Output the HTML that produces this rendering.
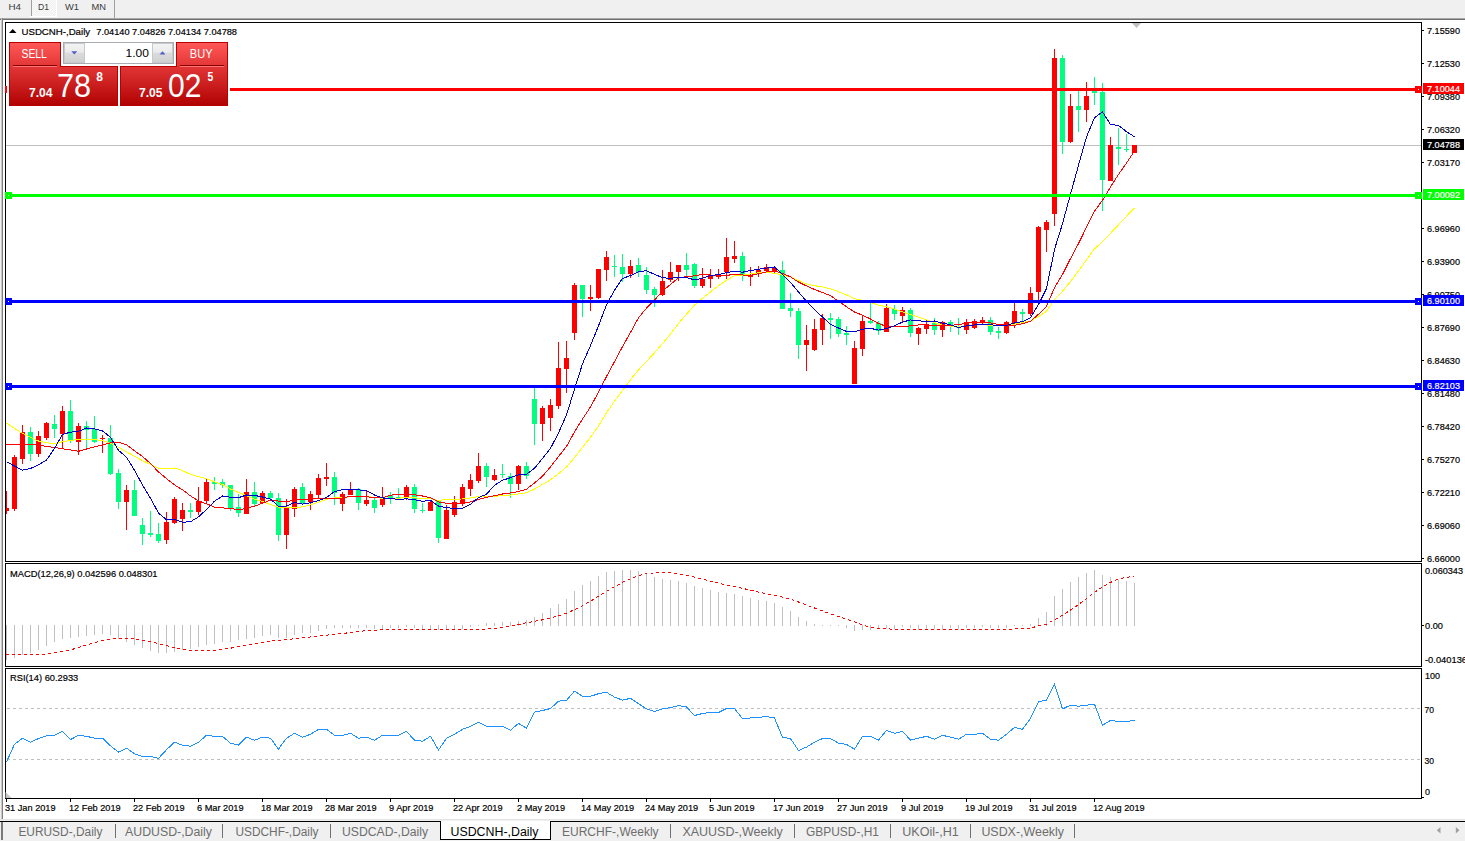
<!DOCTYPE html>
<html><head><meta charset="utf-8"><style>
html,body{margin:0;padding:0;width:1465px;height:841px;overflow:hidden;background:#f0f0f0;font-family:"Liberation Sans",sans-serif}
svg{position:absolute;left:0;top:0;display:block}
text{font-family:"Liberation Sans",sans-serif}
</style></head><body>
<svg width="1465" height="841" viewBox="0 0 1465 841" shape-rendering="crispEdges" font-family="Liberation Sans, sans-serif">
<rect x="0" y="0" width="1465" height="841" fill="#f0f0f0"/>
<rect x="31" y="0" width="1" height="16" fill="#a0a0a0"/>
<rect x="30" y="16" width="27" height="1" fill="#ffffff"/>
<rect x="56" y="0" width="1" height="16" fill="#ffffff"/>
<rect x="114" y="0" width="1" height="18" fill="#a0a0a0"/>
<defs><pattern id="dith" width="2" height="2" patternUnits="userSpaceOnUse"><rect width="2" height="2" fill="#f0f0f0"/><rect width="1" height="1" fill="#fafafa"/><rect x="1" y="1" width="1" height="1" fill="#fafafa"/></pattern></defs>
<rect x="32" y="0" width="24" height="16" fill="url(#dith)"/>
<text x="8.5" y="10" font-size="9.7" fill="#3a3a3a" textLength="12.5" lengthAdjust="spacingAndGlyphs">H4</text>
<text x="38" y="10" font-size="9.7" fill="#3a3a3a" textLength="11" lengthAdjust="spacingAndGlyphs">D1</text>
<text x="65" y="10" font-size="9.7" fill="#3a3a3a" textLength="14" lengthAdjust="spacingAndGlyphs">W1</text>
<text x="91.5" y="10" font-size="9.7" fill="#3a3a3a" textLength="14.5" lengthAdjust="spacingAndGlyphs">MN</text>
<rect x="0" y="18" width="1465" height="1" fill="#a8a8a8"/>
<rect x="0" y="19" width="1465" height="1" fill="#707070"/>
<rect x="1" y="18" width="1" height="802" fill="#c8c8c8"/>
<rect x="2" y="18" width="1" height="802" fill="#808080"/>
<rect x="3" y="20" width="1462" height="799" fill="#ffffff"/>
<g>
<rect x="5" y="145" width="1416" height="1" fill="#c0c0c0"/>
<rect x="6" y="491" width="1" height="23" fill="#FF0000"/>
<rect x="4" y="508" width="5" height="3" fill="#FF0000"/>
<rect x="14" y="455" width="1" height="56" fill="#FF0000"/>
<rect x="12" y="457" width="5" height="52" fill="#FF0000"/>
<rect x="22" y="425" width="1" height="39" fill="#FF0000"/>
<rect x="20" y="432" width="5" height="27" fill="#FF0000"/>
<rect x="30" y="427" width="1" height="34" fill="#00FF7F"/>
<rect x="28" y="432" width="5" height="22" fill="#00FF7F"/>
<rect x="38" y="431" width="1" height="26" fill="#FF0000"/>
<rect x="36" y="436" width="5" height="18" fill="#FF0000"/>
<rect x="46" y="422" width="1" height="18" fill="#FF0000"/>
<rect x="44" y="423" width="5" height="15" fill="#FF0000"/>
<rect x="54" y="415" width="1" height="23" fill="#00FF7F"/>
<rect x="52" y="424" width="5" height="5" fill="#00FF7F"/>
<rect x="62" y="406" width="1" height="43" fill="#FF0000"/>
<rect x="60" y="411" width="5" height="23" fill="#FF0000"/>
<rect x="70" y="400" width="1" height="43" fill="#00FF7F"/>
<rect x="68" y="411" width="5" height="30" fill="#00FF7F"/>
<rect x="78" y="423" width="1" height="32" fill="#FF0000"/>
<rect x="76" y="426" width="5" height="16" fill="#FF0000"/>
<rect x="86" y="421" width="1" height="29" fill="#00FF7F"/>
<rect x="84" y="426" width="5" height="4" fill="#00FF7F"/>
<rect x="94" y="416" width="1" height="27" fill="#00FF7F"/>
<rect x="92" y="429" width="5" height="13" fill="#00FF7F"/>
<rect x="102" y="435" width="1" height="18" fill="#FF0000"/>
<rect x="100" y="438" width="5" height="1" fill="#FF0000"/>
<rect x="110" y="425" width="1" height="50" fill="#00FF7F"/>
<rect x="108" y="438" width="5" height="36" fill="#00FF7F"/>
<rect x="118" y="469" width="1" height="40" fill="#00FF7F"/>
<rect x="116" y="473" width="5" height="29" fill="#00FF7F"/>
<rect x="126" y="485" width="1" height="45" fill="#FF0000"/>
<rect x="124" y="490" width="5" height="12" fill="#FF0000"/>
<rect x="134" y="480" width="1" height="36" fill="#00FF7F"/>
<rect x="132" y="490" width="5" height="26" fill="#00FF7F"/>
<rect x="142" y="518" width="1" height="27" fill="#00FF7F"/>
<rect x="140" y="525" width="5" height="9" fill="#00FF7F"/>
<rect x="150" y="511" width="1" height="26" fill="#00FF7F"/>
<rect x="148" y="533" width="5" height="2" fill="#00FF7F"/>
<rect x="158" y="523" width="1" height="20" fill="#00FF7F"/>
<rect x="156" y="534" width="5" height="7" fill="#00FF7F"/>
<rect x="166" y="512" width="1" height="32" fill="#FF0000"/>
<rect x="164" y="522" width="5" height="18" fill="#FF0000"/>
<rect x="174" y="497" width="1" height="27" fill="#FF0000"/>
<rect x="172" y="499" width="5" height="24" fill="#FF0000"/>
<rect x="182" y="503" width="1" height="28" fill="#FF0000"/>
<rect x="180" y="510" width="5" height="9" fill="#FF0000"/>
<rect x="190" y="503" width="1" height="15" fill="#00FF7F"/>
<rect x="188" y="510" width="5" height="2" fill="#00FF7F"/>
<rect x="198" y="487" width="1" height="28" fill="#FF0000"/>
<rect x="196" y="501" width="5" height="11" fill="#FF0000"/>
<rect x="206" y="478" width="1" height="26" fill="#FF0000"/>
<rect x="204" y="482" width="5" height="19" fill="#FF0000"/>
<rect x="214" y="477" width="1" height="13" fill="#00FF7F"/>
<rect x="212" y="482" width="5" height="2" fill="#00FF7F"/>
<rect x="222" y="479" width="1" height="9" fill="#00FF7F"/>
<rect x="220" y="482" width="5" height="3" fill="#00FF7F"/>
<rect x="230" y="485" width="1" height="26" fill="#00FF7F"/>
<rect x="228" y="485" width="5" height="23" fill="#00FF7F"/>
<rect x="238" y="494" width="1" height="23" fill="#00FF7F"/>
<rect x="236" y="507" width="5" height="6" fill="#00FF7F"/>
<rect x="246" y="479" width="1" height="35" fill="#FF0000"/>
<rect x="244" y="492" width="5" height="22" fill="#FF0000"/>
<rect x="254" y="482" width="1" height="25" fill="#00FF7F"/>
<rect x="252" y="492" width="5" height="12" fill="#00FF7F"/>
<rect x="262" y="491" width="1" height="13" fill="#FF0000"/>
<rect x="260" y="493" width="5" height="10" fill="#FF0000"/>
<rect x="270" y="491" width="1" height="8" fill="#00FF7F"/>
<rect x="268" y="493" width="5" height="5" fill="#00FF7F"/>
<rect x="278" y="493" width="1" height="48" fill="#00FF7F"/>
<rect x="276" y="498" width="5" height="37" fill="#00FF7F"/>
<rect x="286" y="499" width="1" height="50" fill="#FF0000"/>
<rect x="284" y="507" width="5" height="28" fill="#FF0000"/>
<rect x="294" y="487" width="1" height="30" fill="#FF0000"/>
<rect x="292" y="489" width="5" height="20" fill="#FF0000"/>
<rect x="302" y="483" width="1" height="21" fill="#00FF7F"/>
<rect x="300" y="487" width="5" height="16" fill="#00FF7F"/>
<rect x="310" y="491" width="1" height="19" fill="#FF0000"/>
<rect x="308" y="494" width="5" height="8" fill="#FF0000"/>
<rect x="318" y="474" width="1" height="24" fill="#FF0000"/>
<rect x="316" y="478" width="5" height="17" fill="#FF0000"/>
<rect x="326" y="463" width="1" height="23" fill="#FF0000"/>
<rect x="324" y="477" width="5" height="2" fill="#FF0000"/>
<rect x="334" y="472" width="1" height="33" fill="#00FF7F"/>
<rect x="332" y="477" width="5" height="16" fill="#00FF7F"/>
<rect x="342" y="492" width="1" height="19" fill="#FF0000"/>
<rect x="340" y="494" width="5" height="10" fill="#FF0000"/>
<rect x="350" y="482" width="1" height="13" fill="#FF0000"/>
<rect x="348" y="490" width="5" height="5" fill="#FF0000"/>
<rect x="358" y="488" width="1" height="22" fill="#00FF7F"/>
<rect x="356" y="489" width="5" height="14" fill="#00FF7F"/>
<rect x="366" y="491" width="1" height="15" fill="#FF0000"/>
<rect x="364" y="500" width="5" height="4" fill="#FF0000"/>
<rect x="374" y="498" width="1" height="15" fill="#00FF7F"/>
<rect x="372" y="500" width="5" height="8" fill="#00FF7F"/>
<rect x="382" y="487" width="1" height="20" fill="#FF0000"/>
<rect x="380" y="498" width="5" height="7" fill="#FF0000"/>
<rect x="390" y="492" width="1" height="12" fill="#00FF7F"/>
<rect x="388" y="495" width="5" height="3" fill="#00FF7F"/>
<rect x="398" y="488" width="1" height="11" fill="#00FF7F"/>
<rect x="396" y="497" width="5" height="1" fill="#00FF7F"/>
<rect x="406" y="485" width="1" height="15" fill="#FF0000"/>
<rect x="404" y="487" width="5" height="11" fill="#FF0000"/>
<rect x="414" y="484" width="1" height="29" fill="#00FF7F"/>
<rect x="412" y="487" width="5" height="22" fill="#00FF7F"/>
<rect x="422" y="503" width="1" height="10" fill="#00FF7F"/>
<rect x="420" y="510" width="5" height="1" fill="#00FF7F"/>
<rect x="430" y="501" width="1" height="10" fill="#FF0000"/>
<rect x="428" y="502" width="5" height="9" fill="#FF0000"/>
<rect x="438" y="500" width="1" height="43" fill="#00FF7F"/>
<rect x="436" y="501" width="5" height="37" fill="#00FF7F"/>
<rect x="446" y="505" width="1" height="34" fill="#FF0000"/>
<rect x="444" y="510" width="5" height="29" fill="#FF0000"/>
<rect x="454" y="496" width="1" height="21" fill="#FF0000"/>
<rect x="452" y="502" width="5" height="13" fill="#FF0000"/>
<rect x="462" y="484" width="1" height="22" fill="#FF0000"/>
<rect x="460" y="487" width="5" height="17" fill="#FF0000"/>
<rect x="470" y="474" width="1" height="22" fill="#FF0000"/>
<rect x="468" y="480" width="5" height="9" fill="#FF0000"/>
<rect x="478" y="453" width="1" height="30" fill="#FF0000"/>
<rect x="476" y="466" width="5" height="15" fill="#FF0000"/>
<rect x="486" y="463" width="1" height="24" fill="#00FF7F"/>
<rect x="484" y="466" width="5" height="11" fill="#00FF7F"/>
<rect x="494" y="469" width="1" height="12" fill="#FF0000"/>
<rect x="492" y="475" width="5" height="5" fill="#FF0000"/>
<rect x="502" y="464" width="1" height="14" fill="#00FF7F"/>
<rect x="500" y="474" width="5" height="1" fill="#00FF7F"/>
<rect x="510" y="473" width="1" height="25" fill="#00FF7F"/>
<rect x="508" y="476" width="5" height="8" fill="#00FF7F"/>
<rect x="518" y="465" width="1" height="25" fill="#FF0000"/>
<rect x="516" y="466" width="5" height="18" fill="#FF0000"/>
<rect x="526" y="462" width="1" height="17" fill="#00FF7F"/>
<rect x="524" y="466" width="5" height="10" fill="#00FF7F"/>
<rect x="534" y="388" width="1" height="57" fill="#00FF7F"/>
<rect x="532" y="399" width="5" height="25" fill="#00FF7F"/>
<rect x="542" y="406" width="1" height="35" fill="#FF0000"/>
<rect x="540" y="408" width="5" height="16" fill="#FF0000"/>
<rect x="550" y="399" width="1" height="32" fill="#FF0000"/>
<rect x="548" y="405" width="5" height="13" fill="#FF0000"/>
<rect x="558" y="342" width="1" height="67" fill="#FF0000"/>
<rect x="556" y="368" width="5" height="38" fill="#FF0000"/>
<rect x="566" y="341" width="1" height="52" fill="#FF0000"/>
<rect x="564" y="358" width="5" height="11" fill="#FF0000"/>
<rect x="574" y="283" width="1" height="57" fill="#FF0000"/>
<rect x="572" y="285" width="5" height="48" fill="#FF0000"/>
<rect x="582" y="285" width="1" height="32" fill="#00FF7F"/>
<rect x="580" y="285" width="5" height="14" fill="#00FF7F"/>
<rect x="590" y="285" width="1" height="26" fill="#FF0000"/>
<rect x="588" y="297" width="5" height="2" fill="#FF0000"/>
<rect x="598" y="269" width="1" height="30" fill="#FF0000"/>
<rect x="596" y="269" width="5" height="29" fill="#FF0000"/>
<rect x="606" y="251" width="1" height="30" fill="#FF0000"/>
<rect x="604" y="257" width="5" height="13" fill="#FF0000"/>
<rect x="614" y="255" width="1" height="22" fill="#00FF7F"/>
<rect x="612" y="266" width="5" height="1" fill="#00FF7F"/>
<rect x="622" y="254" width="1" height="28" fill="#00FF7F"/>
<rect x="620" y="267" width="5" height="7" fill="#00FF7F"/>
<rect x="630" y="260" width="1" height="18" fill="#FF0000"/>
<rect x="628" y="266" width="5" height="8" fill="#FF0000"/>
<rect x="638" y="258" width="1" height="19" fill="#00FF7F"/>
<rect x="636" y="265" width="5" height="7" fill="#00FF7F"/>
<rect x="646" y="267" width="1" height="27" fill="#00FF7F"/>
<rect x="644" y="275" width="5" height="15" fill="#00FF7F"/>
<rect x="654" y="287" width="1" height="20" fill="#00FF7F"/>
<rect x="652" y="289" width="5" height="6" fill="#00FF7F"/>
<rect x="662" y="270" width="1" height="26" fill="#FF0000"/>
<rect x="660" y="281" width="5" height="14" fill="#FF0000"/>
<rect x="670" y="262" width="1" height="20" fill="#FF0000"/>
<rect x="668" y="272" width="5" height="8" fill="#FF0000"/>
<rect x="678" y="265" width="1" height="16" fill="#FF0000"/>
<rect x="676" y="265" width="5" height="7" fill="#FF0000"/>
<rect x="686" y="253" width="1" height="25" fill="#00FF7F"/>
<rect x="684" y="265" width="5" height="5" fill="#00FF7F"/>
<rect x="694" y="263" width="1" height="25" fill="#00FF7F"/>
<rect x="692" y="264" width="5" height="22" fill="#00FF7F"/>
<rect x="702" y="268" width="1" height="20" fill="#FF0000"/>
<rect x="700" y="279" width="5" height="7" fill="#FF0000"/>
<rect x="710" y="269" width="1" height="19" fill="#FF0000"/>
<rect x="708" y="275" width="5" height="4" fill="#FF0000"/>
<rect x="718" y="269" width="1" height="10" fill="#FF0000"/>
<rect x="716" y="275" width="5" height="2" fill="#FF0000"/>
<rect x="726" y="238" width="1" height="41" fill="#FF0000"/>
<rect x="724" y="257" width="5" height="15" fill="#FF0000"/>
<rect x="734" y="241" width="1" height="22" fill="#FF0000"/>
<rect x="732" y="256" width="5" height="3" fill="#FF0000"/>
<rect x="742" y="252" width="1" height="29" fill="#00FF7F"/>
<rect x="740" y="256" width="5" height="20" fill="#00FF7F"/>
<rect x="750" y="267" width="1" height="19" fill="#FF0000"/>
<rect x="748" y="275" width="5" height="2" fill="#FF0000"/>
<rect x="758" y="266" width="1" height="11" fill="#FF0000"/>
<rect x="756" y="270" width="5" height="4" fill="#FF0000"/>
<rect x="766" y="264" width="1" height="8" fill="#FF0000"/>
<rect x="764" y="267" width="5" height="4" fill="#FF0000"/>
<rect x="774" y="266" width="1" height="8" fill="#FF0000"/>
<rect x="772" y="268" width="5" height="4" fill="#FF0000"/>
<rect x="782" y="261" width="1" height="48" fill="#00FF7F"/>
<rect x="780" y="270" width="5" height="39" fill="#00FF7F"/>
<rect x="790" y="293" width="1" height="24" fill="#00FF7F"/>
<rect x="788" y="308" width="5" height="3" fill="#00FF7F"/>
<rect x="798" y="308" width="1" height="51" fill="#00FF7F"/>
<rect x="796" y="311" width="5" height="34" fill="#00FF7F"/>
<rect x="806" y="325" width="1" height="46" fill="#FF0000"/>
<rect x="804" y="340" width="5" height="5" fill="#FF0000"/>
<rect x="814" y="319" width="1" height="32" fill="#FF0000"/>
<rect x="812" y="329" width="5" height="21" fill="#FF0000"/>
<rect x="822" y="314" width="1" height="31" fill="#FF0000"/>
<rect x="820" y="318" width="5" height="12" fill="#FF0000"/>
<rect x="830" y="313" width="1" height="26" fill="#00FF7F"/>
<rect x="828" y="318" width="5" height="2" fill="#00FF7F"/>
<rect x="838" y="317" width="1" height="20" fill="#00FF7F"/>
<rect x="836" y="319" width="5" height="15" fill="#00FF7F"/>
<rect x="846" y="326" width="1" height="19" fill="#00FF7F"/>
<rect x="844" y="333" width="5" height="2" fill="#00FF7F"/>
<rect x="854" y="341" width="1" height="43" fill="#FF0000"/>
<rect x="852" y="348" width="5" height="36" fill="#FF0000"/>
<rect x="862" y="316" width="1" height="40" fill="#FF0000"/>
<rect x="860" y="321" width="5" height="28" fill="#FF0000"/>
<rect x="870" y="303" width="1" height="21" fill="#00FF7F"/>
<rect x="868" y="321" width="5" height="2" fill="#00FF7F"/>
<rect x="878" y="321" width="1" height="14" fill="#00FF7F"/>
<rect x="876" y="323" width="5" height="8" fill="#00FF7F"/>
<rect x="886" y="304" width="1" height="28" fill="#FF0000"/>
<rect x="884" y="308" width="5" height="24" fill="#FF0000"/>
<rect x="894" y="305" width="1" height="15" fill="#00FF7F"/>
<rect x="892" y="309" width="5" height="5" fill="#00FF7F"/>
<rect x="902" y="307" width="1" height="15" fill="#FF0000"/>
<rect x="900" y="310" width="5" height="6" fill="#FF0000"/>
<rect x="910" y="308" width="1" height="29" fill="#00FF7F"/>
<rect x="908" y="310" width="5" height="23" fill="#00FF7F"/>
<rect x="918" y="327" width="1" height="18" fill="#FF0000"/>
<rect x="916" y="328" width="5" height="6" fill="#FF0000"/>
<rect x="926" y="320" width="1" height="14" fill="#FF0000"/>
<rect x="924" y="325" width="5" height="4" fill="#FF0000"/>
<rect x="934" y="318" width="1" height="17" fill="#00FF7F"/>
<rect x="932" y="323" width="5" height="7" fill="#00FF7F"/>
<rect x="942" y="321" width="1" height="16" fill="#FF0000"/>
<rect x="940" y="322" width="5" height="8" fill="#FF0000"/>
<rect x="950" y="320" width="1" height="12" fill="#00FF7F"/>
<rect x="948" y="322" width="5" height="4" fill="#00FF7F"/>
<rect x="958" y="318" width="1" height="17" fill="#00FF7F"/>
<rect x="956" y="327" width="5" height="1" fill="#00FF7F"/>
<rect x="966" y="319" width="1" height="15" fill="#FF0000"/>
<rect x="964" y="322" width="5" height="8" fill="#FF0000"/>
<rect x="974" y="319" width="1" height="10" fill="#FF0000"/>
<rect x="972" y="321" width="5" height="7" fill="#FF0000"/>
<rect x="982" y="317" width="1" height="7" fill="#FF0000"/>
<rect x="980" y="320" width="5" height="2" fill="#FF0000"/>
<rect x="990" y="317" width="1" height="18" fill="#00FF7F"/>
<rect x="988" y="320" width="5" height="12" fill="#00FF7F"/>
<rect x="998" y="327" width="1" height="12" fill="#00FF7F"/>
<rect x="996" y="331" width="5" height="2" fill="#00FF7F"/>
<rect x="1006" y="321" width="1" height="13" fill="#FF0000"/>
<rect x="1004" y="322" width="5" height="11" fill="#FF0000"/>
<rect x="1014" y="302" width="1" height="26" fill="#FF0000"/>
<rect x="1012" y="311" width="5" height="12" fill="#FF0000"/>
<rect x="1022" y="309" width="1" height="12" fill="#00FF7F"/>
<rect x="1020" y="312" width="5" height="2" fill="#00FF7F"/>
<rect x="1030" y="287" width="1" height="29" fill="#FF0000"/>
<rect x="1028" y="293" width="5" height="21" fill="#FF0000"/>
<rect x="1038" y="226" width="1" height="74" fill="#FF0000"/>
<rect x="1036" y="227" width="5" height="65" fill="#FF0000"/>
<rect x="1046" y="220" width="1" height="32" fill="#FF0000"/>
<rect x="1044" y="222" width="5" height="8" fill="#FF0000"/>
<rect x="1054" y="49" width="1" height="177" fill="#FF0000"/>
<rect x="1052" y="58" width="5" height="156" fill="#FF0000"/>
<rect x="1062" y="55" width="1" height="99" fill="#00FF7F"/>
<rect x="1060" y="58" width="5" height="84" fill="#00FF7F"/>
<rect x="1070" y="94" width="1" height="49" fill="#FF0000"/>
<rect x="1068" y="106" width="5" height="36" fill="#FF0000"/>
<rect x="1078" y="90" width="1" height="42" fill="#00FF7F"/>
<rect x="1076" y="106" width="5" height="4" fill="#00FF7F"/>
<rect x="1086" y="82" width="1" height="40" fill="#FF0000"/>
<rect x="1084" y="96" width="5" height="14" fill="#FF0000"/>
<rect x="1094" y="77" width="1" height="28" fill="#00FF7F"/>
<rect x="1092" y="91" width="5" height="2" fill="#00FF7F"/>
<rect x="1102" y="83" width="1" height="128" fill="#00FF7F"/>
<rect x="1100" y="92" width="5" height="88" fill="#00FF7F"/>
<rect x="1110" y="137" width="1" height="44" fill="#FF0000"/>
<rect x="1108" y="145" width="5" height="36" fill="#FF0000"/>
<rect x="1118" y="128" width="1" height="37" fill="#00FF7F"/>
<rect x="1116" y="147" width="5" height="2" fill="#00FF7F"/>
<rect x="1126" y="134" width="1" height="18" fill="#00FF7F"/>
<rect x="1124" y="149" width="5" height="1" fill="#00FF7F"/>
<rect x="1134" y="145" width="1" height="8" fill="#FF0000"/>
<rect x="1132" y="145" width="5" height="8" fill="#FF0000"/>
<polyline points="6.5,423.0 14.5,428.3 22.5,433.4 30.5,437.2 38.5,441.0 46.5,442.8 54.5,443.5 62.5,441.8 70.5,440.3 78.5,439.7 86.5,439.1 94.5,439.6 102.5,440.5 110.5,443.4 118.5,447.3 126.5,451.8 134.5,456.3 142.5,460.6 150.5,464.4 158.5,468.1 166.5,468.5 174.5,468.0 182.5,470.6 190.5,474.4 198.5,476.6 206.5,478.8 214.5,481.7 222.5,484.4 230.5,489.0 238.5,492.4 246.5,495.6 254.5,499.1 262.5,501.6 270.5,504.4 278.5,507.3 286.5,507.6 294.5,507.5 302.5,506.9 310.5,505.0 318.5,502.3 326.5,499.3 334.5,497.9 342.5,497.7 350.5,496.7 358.5,496.3 366.5,496.3 374.5,497.5 382.5,498.2 390.5,498.8 398.5,498.3 406.5,497.1 414.5,497.9 422.5,498.2 430.5,498.6 438.5,500.5 446.5,499.3 454.5,499.1 462.5,499.0 470.5,497.9 478.5,496.6 486.5,496.5 494.5,496.4 502.5,495.6 510.5,495.1 518.5,494.0 526.5,492.7 534.5,489.1 542.5,484.3 550.5,479.9 558.5,473.7 566.5,467.0 574.5,457.4 582.5,447.4 590.5,437.2 598.5,426.1 606.5,412.8 614.5,401.2 622.5,390.4 630.5,379.8 638.5,369.9 646.5,361.5 654.5,352.8 662.5,343.6 670.5,333.9 678.5,323.5 686.5,314.2 694.5,305.1 702.5,298.2 710.5,291.9 718.5,285.7 726.5,280.4 734.5,275.6 742.5,275.2 750.5,274.0 758.5,272.7 766.5,272.6 774.5,273.2 782.5,275.1 790.5,276.9 798.5,280.6 806.5,283.9 814.5,285.7 822.5,286.9 830.5,288.7 838.5,291.7 846.5,295.0 854.5,298.7 862.5,300.4 870.5,302.4 878.5,305.1 886.5,306.6 894.5,309.3 902.5,311.9 910.5,314.6 918.5,317.1 926.5,319.7 934.5,322.7 942.5,325.3 950.5,326.1 958.5,327.0 966.5,325.9 974.5,325.0 982.5,324.6 990.5,325.3 998.5,325.9 1006.5,325.3 1014.5,324.1 1022.5,322.5 1030.5,321.2 1038.5,316.6 1046.5,311.4 1054.5,299.5 1062.5,291.3 1070.5,281.6 1078.5,270.9 1086.5,259.9 1094.5,248.8 1102.5,241.7 1110.5,233.3 1118.5,224.8 1126.5,216.3 1134.5,207.9" fill="none" stroke="#FFFF00" stroke-width="1" shape-rendering="crispEdges"/>
<polyline points="6.5,445.0 14.5,444.7 22.5,444.5 30.5,444.2 38.5,445.3 46.5,446.4 54.5,447.5 62.5,448.8 70.5,450.0 78.5,451.3 86.5,449.0 94.5,446.9 102.5,444.9 110.5,442.8 118.5,442.4 126.5,444.7 134.5,450.8 142.5,456.5 150.5,463.6 158.5,471.9 166.5,478.6 174.5,484.9 182.5,489.8 190.5,495.9 198.5,500.9 206.5,503.8 214.5,507.1 222.5,507.9 230.5,508.4 238.5,510.0 246.5,508.3 254.5,506.2 262.5,503.2 270.5,500.2 278.5,501.1 286.5,501.7 294.5,500.2 302.5,499.6 310.5,499.1 318.5,498.8 326.5,498.3 334.5,498.9 342.5,497.9 350.5,496.2 358.5,497.0 366.5,496.7 374.5,497.8 382.5,497.8 390.5,495.1 398.5,494.5 406.5,494.4 414.5,494.8 422.5,496.0 430.5,497.7 438.5,502.0 446.5,503.2 454.5,503.8 462.5,503.6 470.5,501.9 478.5,499.5 486.5,497.3 494.5,495.7 502.5,494.0 510.5,493.0 518.5,491.5 526.5,489.2 534.5,483.0 542.5,476.3 550.5,466.8 558.5,456.6 566.5,446.4 574.5,431.9 582.5,419.0 590.5,406.9 598.5,392.1 606.5,376.5 614.5,361.7 622.5,346.7 630.5,332.4 638.5,317.8 646.5,308.1 654.5,300.1 662.5,291.2 670.5,284.4 678.5,277.8 686.5,276.7 694.5,275.8 702.5,274.5 710.5,274.9 718.5,276.2 726.5,275.5 734.5,274.2 742.5,275.0 750.5,275.2 758.5,273.8 766.5,271.8 774.5,270.9 782.5,273.5 790.5,276.8 798.5,282.1 806.5,285.9 814.5,289.5 822.5,292.5 830.5,295.7 838.5,301.2 846.5,306.8 854.5,312.0 862.5,315.2 870.5,319.0 878.5,323.6 886.5,326.4 894.5,326.8 902.5,326.7 910.5,325.9 918.5,325.0 926.5,324.7 934.5,325.6 942.5,325.8 950.5,325.2 958.5,324.8 966.5,322.9 974.5,322.9 982.5,322.7 990.5,322.8 998.5,324.6 1006.5,325.1 1014.5,325.2 1022.5,323.8 1030.5,321.3 1038.5,314.3 1046.5,306.6 1054.5,287.7 1062.5,274.5 1070.5,258.6 1078.5,243.5 1086.5,227.4 1094.5,211.1 1102.5,200.3 1110.5,186.9 1118.5,174.5 1126.5,163.0 1134.5,151.0" fill="none" stroke="#FF0000" stroke-width="1" shape-rendering="crispEdges"/>
<polyline points="6.5,461.8 14.5,466.0 22.5,470.2 30.5,468.5 38.5,464.7 46.5,460.1 54.5,448.3 62.5,434.4 70.5,432.2 78.5,431.3 86.5,428.0 94.5,428.8 102.5,430.9 110.5,437.3 118.5,450.3 126.5,457.3 134.5,470.2 142.5,485.0 150.5,498.3 158.5,513.0 166.5,519.8 174.5,519.4 182.5,522.3 190.5,521.7 198.5,516.9 206.5,509.4 214.5,501.2 222.5,496.0 230.5,497.3 238.5,497.7 246.5,495.0 254.5,495.4 262.5,497.0 270.5,499.1 278.5,506.2 286.5,506.0 294.5,502.6 302.5,504.1 310.5,502.7 318.5,500.6 326.5,497.6 334.5,491.6 342.5,489.7 350.5,489.9 358.5,489.9 366.5,490.7 374.5,495.0 382.5,497.9 390.5,498.7 398.5,499.3 406.5,498.9 414.5,499.7 422.5,501.3 430.5,500.4 438.5,506.1 446.5,507.8 454.5,508.3 462.5,508.3 470.5,504.2 478.5,497.7 486.5,494.2 494.5,485.2 502.5,480.3 510.5,477.7 518.5,474.8 526.5,474.2 534.5,468.3 542.5,458.4 550.5,448.3 558.5,433.0 566.5,415.0 574.5,389.1 582.5,363.8 590.5,345.6 598.5,325.8 606.5,304.7 614.5,290.3 622.5,278.4 630.5,275.6 638.5,271.8 646.5,270.7 654.5,274.3 662.5,277.7 670.5,278.4 678.5,277.2 686.5,277.7 694.5,279.8 702.5,278.3 710.5,275.5 718.5,274.7 726.5,272.6 734.5,271.3 742.5,272.2 750.5,270.6 758.5,269.3 766.5,268.1 774.5,267.0 782.5,274.4 790.5,282.3 798.5,292.0 806.5,301.3 814.5,309.7 822.5,317.0 830.5,324.4 838.5,328.0 846.5,331.4 854.5,331.9 862.5,329.2 870.5,328.3 878.5,330.2 886.5,328.5 894.5,325.7 902.5,322.1 910.5,319.9 918.5,320.9 926.5,321.2 934.5,321.0 942.5,323.1 950.5,324.8 958.5,327.5 966.5,325.9 974.5,324.9 982.5,324.3 990.5,324.6 998.5,326.0 1006.5,325.4 1014.5,322.9 1022.5,321.7 1030.5,317.7 1038.5,304.4 1046.5,288.6 1054.5,249.4 1062.5,223.7 1070.5,194.3 1078.5,165.2 1086.5,137.0 1094.5,117.8 1102.5,111.9 1110.5,124.4 1118.5,125.4 1126.5,131.7 1134.5,136.8" fill="none" stroke="#0000CD" stroke-width="1" shape-rendering="crispEdges"/>
</g>
<rect x="5" y="88" width="1416" height="3" fill="#FF0000"/>
<rect x="5" y="86" width="7" height="7" fill="#FF0000"/>
<rect x="1415" y="86" width="7" height="7" fill="#FF0000"/>
<rect x="8" y="89" width="1" height="1" fill="#fff"/>
<rect x="1418" y="89" width="1" height="1" fill="#fff"/>
<rect x="5" y="194" width="1416" height="3" fill="#00FF00"/>
<rect x="5" y="192" width="7" height="7" fill="#00FF00"/>
<rect x="1415" y="192" width="7" height="7" fill="#00FF00"/>
<rect x="8" y="195" width="1" height="1" fill="#fff"/>
<rect x="1418" y="195" width="1" height="1" fill="#fff"/>
<rect x="5" y="300" width="1416" height="3" fill="#0000FF"/>
<rect x="5" y="298" width="7" height="7" fill="#0000FF"/>
<rect x="1415" y="298" width="7" height="7" fill="#0000FF"/>
<rect x="8" y="301" width="1" height="1" fill="#fff"/>
<rect x="1418" y="301" width="1" height="1" fill="#fff"/>
<rect x="5" y="385" width="1416" height="3" fill="#0000FF"/>
<rect x="5" y="383" width="7" height="7" fill="#0000FF"/>
<rect x="1415" y="383" width="7" height="7" fill="#0000FF"/>
<rect x="8" y="386" width="1" height="1" fill="#fff"/>
<rect x="1418" y="386" width="1" height="1" fill="#fff"/>
<polygon points="1131.5,22.5 1141.5,22.5 1136.5,28" fill="#c0c0c0" shape-rendering="auto"/>
<rect x="6" y="625" width="1" height="35" fill="#c0c0c0"/>
<rect x="14" y="625" width="1" height="33" fill="#c0c0c0"/>
<rect x="22" y="625" width="1" height="30" fill="#c0c0c0"/>
<rect x="30" y="625" width="1" height="28" fill="#c0c0c0"/>
<rect x="38" y="625" width="1" height="25" fill="#c0c0c0"/>
<rect x="46" y="625" width="1" height="21" fill="#c0c0c0"/>
<rect x="54" y="625" width="1" height="17" fill="#c0c0c0"/>
<rect x="62" y="625" width="1" height="14" fill="#c0c0c0"/>
<rect x="70" y="625" width="1" height="13" fill="#c0c0c0"/>
<rect x="78" y="625" width="1" height="12" fill="#c0c0c0"/>
<rect x="86" y="625" width="1" height="11" fill="#c0c0c0"/>
<rect x="94" y="625" width="1" height="10" fill="#c0c0c0"/>
<rect x="102" y="625" width="1" height="9" fill="#c0c0c0"/>
<rect x="110" y="625" width="1" height="10" fill="#c0c0c0"/>
<rect x="118" y="625" width="1" height="14" fill="#c0c0c0"/>
<rect x="126" y="625" width="1" height="17" fill="#c0c0c0"/>
<rect x="134" y="625" width="1" height="20" fill="#c0c0c0"/>
<rect x="142" y="625" width="1" height="23" fill="#c0c0c0"/>
<rect x="150" y="625" width="1" height="26" fill="#c0c0c0"/>
<rect x="158" y="625" width="1" height="28" fill="#c0c0c0"/>
<rect x="166" y="625" width="1" height="28" fill="#c0c0c0"/>
<rect x="174" y="625" width="1" height="27" fill="#c0c0c0"/>
<rect x="182" y="625" width="1" height="25" fill="#c0c0c0"/>
<rect x="190" y="625" width="1" height="24" fill="#c0c0c0"/>
<rect x="198" y="625" width="1" height="22" fill="#c0c0c0"/>
<rect x="206" y="625" width="1" height="20" fill="#c0c0c0"/>
<rect x="214" y="625" width="1" height="19" fill="#c0c0c0"/>
<rect x="222" y="625" width="1" height="17" fill="#c0c0c0"/>
<rect x="230" y="625" width="1" height="17" fill="#c0c0c0"/>
<rect x="238" y="625" width="1" height="15" fill="#c0c0c0"/>
<rect x="246" y="625" width="1" height="14" fill="#c0c0c0"/>
<rect x="254" y="625" width="1" height="13" fill="#c0c0c0"/>
<rect x="262" y="625" width="1" height="11" fill="#c0c0c0"/>
<rect x="270" y="625" width="1" height="10" fill="#c0c0c0"/>
<rect x="278" y="625" width="1" height="13" fill="#c0c0c0"/>
<rect x="286" y="625" width="1" height="13" fill="#c0c0c0"/>
<rect x="294" y="625" width="1" height="10" fill="#c0c0c0"/>
<rect x="302" y="625" width="1" height="8" fill="#c0c0c0"/>
<rect x="310" y="625" width="1" height="8" fill="#c0c0c0"/>
<rect x="318" y="625" width="1" height="6" fill="#c0c0c0"/>
<rect x="326" y="625" width="1" height="4" fill="#c0c0c0"/>
<rect x="334" y="625" width="1" height="3" fill="#c0c0c0"/>
<rect x="342" y="625" width="1" height="3" fill="#c0c0c0"/>
<rect x="350" y="625" width="1" height="3" fill="#c0c0c0"/>
<rect x="358" y="625" width="1" height="3" fill="#c0c0c0"/>
<rect x="366" y="625" width="1" height="3" fill="#c0c0c0"/>
<rect x="374" y="625" width="1" height="4" fill="#c0c0c0"/>
<rect x="382" y="625" width="1" height="4" fill="#c0c0c0"/>
<rect x="390" y="625" width="1" height="3" fill="#c0c0c0"/>
<rect x="398" y="625" width="1" height="3" fill="#c0c0c0"/>
<rect x="406" y="625" width="1" height="2" fill="#c0c0c0"/>
<rect x="414" y="625" width="1" height="3" fill="#c0c0c0"/>
<rect x="422" y="625" width="1" height="4" fill="#c0c0c0"/>
<rect x="430" y="625" width="1" height="4" fill="#c0c0c0"/>
<rect x="438" y="625" width="1" height="5" fill="#c0c0c0"/>
<rect x="446" y="625" width="1" height="5" fill="#c0c0c0"/>
<rect x="454" y="625" width="1" height="5" fill="#c0c0c0"/>
<rect x="462" y="625" width="1" height="4" fill="#c0c0c0"/>
<rect x="470" y="625" width="1" height="2" fill="#c0c0c0"/>
<rect x="478" y="625" width="1" height="1" fill="#c0c0c0"/>
<rect x="486" y="623" width="1" height="3" fill="#c0c0c0"/>
<rect x="494" y="623" width="1" height="3" fill="#c0c0c0"/>
<rect x="502" y="622" width="1" height="4" fill="#c0c0c0"/>
<rect x="510" y="622" width="1" height="4" fill="#c0c0c0"/>
<rect x="518" y="621" width="1" height="5" fill="#c0c0c0"/>
<rect x="526" y="620" width="1" height="6" fill="#c0c0c0"/>
<rect x="534" y="617" width="1" height="9" fill="#c0c0c0"/>
<rect x="542" y="613" width="1" height="13" fill="#c0c0c0"/>
<rect x="550" y="608" width="1" height="18" fill="#c0c0c0"/>
<rect x="558" y="604" width="1" height="22" fill="#c0c0c0"/>
<rect x="566" y="599" width="1" height="27" fill="#c0c0c0"/>
<rect x="574" y="591" width="1" height="35" fill="#c0c0c0"/>
<rect x="582" y="585" width="1" height="41" fill="#c0c0c0"/>
<rect x="590" y="581" width="1" height="45" fill="#c0c0c0"/>
<rect x="598" y="576" width="1" height="50" fill="#c0c0c0"/>
<rect x="606" y="572" width="1" height="54" fill="#c0c0c0"/>
<rect x="614" y="571" width="1" height="55" fill="#c0c0c0"/>
<rect x="622" y="570" width="1" height="56" fill="#c0c0c0"/>
<rect x="630" y="570" width="1" height="56" fill="#c0c0c0"/>
<rect x="638" y="571" width="1" height="55" fill="#c0c0c0"/>
<rect x="646" y="574" width="1" height="52" fill="#c0c0c0"/>
<rect x="654" y="577" width="1" height="49" fill="#c0c0c0"/>
<rect x="662" y="579" width="1" height="47" fill="#c0c0c0"/>
<rect x="670" y="580" width="1" height="46" fill="#c0c0c0"/>
<rect x="678" y="581" width="1" height="45" fill="#c0c0c0"/>
<rect x="686" y="583" width="1" height="43" fill="#c0c0c0"/>
<rect x="694" y="586" width="1" height="40" fill="#c0c0c0"/>
<rect x="702" y="588" width="1" height="38" fill="#c0c0c0"/>
<rect x="710" y="590" width="1" height="36" fill="#c0c0c0"/>
<rect x="718" y="592" width="1" height="34" fill="#c0c0c0"/>
<rect x="726" y="593" width="1" height="33" fill="#c0c0c0"/>
<rect x="734" y="594" width="1" height="32" fill="#c0c0c0"/>
<rect x="742" y="596" width="1" height="30" fill="#c0c0c0"/>
<rect x="750" y="598" width="1" height="28" fill="#c0c0c0"/>
<rect x="758" y="600" width="1" height="26" fill="#c0c0c0"/>
<rect x="766" y="601" width="1" height="25" fill="#c0c0c0"/>
<rect x="774" y="603" width="1" height="23" fill="#c0c0c0"/>
<rect x="782" y="607" width="1" height="19" fill="#c0c0c0"/>
<rect x="790" y="611" width="1" height="15" fill="#c0c0c0"/>
<rect x="798" y="617" width="1" height="9" fill="#c0c0c0"/>
<rect x="806" y="621" width="1" height="5" fill="#c0c0c0"/>
<rect x="814" y="624" width="1" height="2" fill="#c0c0c0"/>
<rect x="822" y="625" width="1" height="1" fill="#c0c0c0"/>
<rect x="830" y="625" width="1" height="1" fill="#c0c0c0"/>
<rect x="838" y="625" width="1" height="1" fill="#c0c0c0"/>
<rect x="846" y="625" width="1" height="3" fill="#c0c0c0"/>
<rect x="854" y="625" width="1" height="6" fill="#c0c0c0"/>
<rect x="862" y="625" width="1" height="5" fill="#c0c0c0"/>
<rect x="870" y="625" width="1" height="5" fill="#c0c0c0"/>
<rect x="1038" y="618" width="1" height="8" fill="#c0c0c0"/>
<rect x="1046" y="612" width="1" height="14" fill="#c0c0c0"/>
<rect x="1054" y="596" width="1" height="30" fill="#c0c0c0"/>
<rect x="1062" y="589" width="1" height="37" fill="#c0c0c0"/>
<rect x="1070" y="582" width="1" height="44" fill="#c0c0c0"/>
<rect x="1078" y="577" width="1" height="49" fill="#c0c0c0"/>
<rect x="1086" y="573" width="1" height="53" fill="#c0c0c0"/>
<rect x="1094" y="570" width="1" height="56" fill="#c0c0c0"/>
<rect x="1102" y="575" width="1" height="51" fill="#c0c0c0"/>
<rect x="1110" y="577" width="1" height="49" fill="#c0c0c0"/>
<rect x="1118" y="580" width="1" height="46" fill="#c0c0c0"/>
<rect x="1126" y="581" width="1" height="45" fill="#c0c0c0"/>
<rect x="1134" y="583" width="1" height="43" fill="#c0c0c0"/>
<rect x="878" y="625" width="1" height="4" fill="#c0c0c0"/>
<rect x="886" y="625" width="1" height="3" fill="#c0c0c0"/>
<rect x="894" y="625" width="1" height="4" fill="#c0c0c0"/>
<rect x="902" y="625" width="1" height="2" fill="#c0c0c0"/>
<rect x="910" y="625" width="1" height="3" fill="#c0c0c0"/>
<rect x="918" y="625" width="1" height="5" fill="#c0c0c0"/>
<rect x="926" y="625" width="1" height="5" fill="#c0c0c0"/>
<rect x="934" y="625" width="1" height="4" fill="#c0c0c0"/>
<rect x="942" y="625" width="1" height="5" fill="#c0c0c0"/>
<rect x="950" y="625" width="1" height="3" fill="#c0c0c0"/>
<rect x="958" y="625" width="1" height="4" fill="#c0c0c0"/>
<rect x="966" y="625" width="1" height="3" fill="#c0c0c0"/>
<rect x="974" y="625" width="1" height="3" fill="#c0c0c0"/>
<rect x="982" y="625" width="1" height="2" fill="#c0c0c0"/>
<rect x="990" y="625" width="1" height="3" fill="#c0c0c0"/>
<rect x="998" y="625" width="1" height="3" fill="#c0c0c0"/>
<rect x="1006" y="625" width="1" height="3" fill="#c0c0c0"/>
<rect x="1014" y="625" width="1" height="1" fill="#c0c0c0"/>
<rect x="1022" y="625" width="1" height="1" fill="#c0c0c0"/>
<rect x="1030" y="624" width="1" height="2" fill="#c0c0c0"/>
<polyline points="6.5,654.6 14.5,654.7 22.5,654.8 30.5,654.9 38.5,655.0 46.5,654.0 54.5,652.7 62.5,651.5 70.5,650.0 78.5,647.4 86.5,644.9 94.5,642.7 102.5,640.6 110.5,639.0 118.5,638.3 126.5,638.3 134.5,638.9 142.5,640.0 150.5,641.6 158.5,643.6 166.5,645.6 174.5,647.6 182.5,649.2 190.5,650.3 198.5,650.9 206.5,650.9 214.5,650.4 222.5,649.4 230.5,648.2 238.5,646.7 246.5,645.2 254.5,643.9 262.5,642.4 270.5,641.1 278.5,640.3 286.5,639.6 294.5,638.8 302.5,637.8 310.5,637.0 318.5,636.1 326.5,635.2 334.5,634.3 342.5,633.5 350.5,632.5 358.5,631.5 366.5,630.7 374.5,630.3 382.5,629.9 390.5,629.6 398.5,629.5 406.5,629.4 414.5,629.4 422.5,629.5 430.5,629.5 438.5,629.8 446.5,629.9 454.5,629.9 462.5,630.0 470.5,629.9 478.5,629.7 486.5,629.1 494.5,628.5 502.5,627.7 510.5,625.8 518.5,624.7 526.5,622.7 534.5,621.4 542.5,619.8 550.5,617.9 558.5,615.7 566.5,613.1 574.5,609.7 582.5,605.6 590.5,601.2 598.5,596.3 606.5,591.3 614.5,586.7 622.5,582.4 630.5,578.7 638.5,575.6 646.5,573.7 654.5,572.8 662.5,572.6 670.5,573.0 678.5,574.0 686.5,575.4 694.5,577.1 702.5,579.1 710.5,581.2 718.5,583.2 726.5,584.9 734.5,586.6 742.5,588.3 750.5,590.2 758.5,592.1 766.5,593.7 774.5,595.4 782.5,597.2 790.5,599.3 798.5,602.0 806.5,604.9 814.5,608.0 822.5,611.0 830.5,613.8 838.5,616.4 846.5,619.2 854.5,621.9 862.5,625.0 870.5,627.4 878.5,628.3 886.5,628.8 894.5,629.3 902.5,629.5 910.5,629.9 918.5,630.0 926.5,629.9 934.5,629.8 942.5,629.8 950.5,629.7 958.5,629.8 966.5,629.7 974.5,629.9 982.5,629.8 990.5,629.7 998.5,629.5 1006.5,629.4 1014.5,629.0 1022.5,628.7 1030.5,628.1 1038.5,625.9 1046.5,624.1 1054.5,619.7 1062.5,615.3 1070.5,610.1 1078.5,604.5 1086.5,598.6 1094.5,592.4 1102.5,587.0 1110.5,582.5 1118.5,578.9 1126.5,577.2 1134.5,576.5" fill="none" stroke="#FF0000" stroke-width="1" stroke-dasharray="3,3" shape-rendering="crispEdges"/>
<line x1="7" y1="708.5" x2="1421" y2="708.5" stroke="#c0c0c0" stroke-dasharray="3,3"/>
<line x1="7" y1="759.5" x2="1421" y2="759.5" stroke="#c0c0c0" stroke-dasharray="3,3"/>
<polyline points="6.5,762.0 14.5,744.2 22.5,738.2 30.5,742.2 38.5,738.6 46.5,735.7 54.5,735.3 62.5,731.3 70.5,739.6 78.5,735.3 86.5,736.3 94.5,738.2 102.5,738.2 110.5,745.8 118.5,752.1 126.5,748.1 134.5,753.7 142.5,756.4 150.5,756.4 158.5,758.4 166.5,749.7 174.5,742.2 182.5,745.2 190.5,746.2 198.5,742.2 206.5,735.3 214.5,736.3 222.5,736.3 230.5,743.2 238.5,745.2 246.5,737.2 254.5,740.2 262.5,737.2 270.5,738.2 278.5,749.1 286.5,738.2 294.5,733.3 302.5,737.2 310.5,734.3 318.5,729.3 326.5,729.3 334.5,735.3 342.5,735.3 350.5,733.3 358.5,738.2 366.5,737.2 374.5,740.2 382.5,735.3 390.5,735.3 398.5,735.3 406.5,731.3 414.5,740.2 422.5,741.2 430.5,736.3 438.5,750.1 446.5,738.2 454.5,734.3 462.5,729.3 470.5,726.4 478.5,722.4 486.5,726.4 494.5,726.4 502.5,726.4 510.5,730.3 518.5,723.4 526.5,728.3 534.5,712.1 542.5,710.5 550.5,708.5 558.5,701.2 566.5,700.4 574.5,691.1 582.5,696.3 590.5,696.3 598.5,693.7 606.5,692.3 614.5,697.1 622.5,700.2 630.5,698.3 638.5,703.6 646.5,708.9 654.5,711.5 662.5,708.9 670.5,707.6 678.5,705.6 686.5,707.0 694.5,715.5 702.5,713.5 710.5,712.5 718.5,712.5 726.5,708.5 734.5,708.5 742.5,718.8 750.5,718.0 758.5,717.5 766.5,716.5 774.5,718.0 782.5,737.2 790.5,738.6 798.5,750.5 806.5,747.1 814.5,742.2 822.5,738.6 830.5,738.6 838.5,743.2 846.5,744.4 854.5,749.1 862.5,736.3 870.5,736.3 878.5,740.2 886.5,730.3 894.5,733.3 902.5,731.3 910.5,740.2 918.5,738.2 926.5,736.3 934.5,739.2 942.5,735.3 950.5,737.2 958.5,739.2 966.5,734.3 974.5,734.3 982.5,733.3 990.5,739.2 998.5,740.2 1006.5,734.3 1014.5,727.4 1022.5,729.3 1030.5,718.4 1038.5,701.6 1046.5,700.2 1054.5,684.4 1062.5,708.9 1070.5,705.2 1078.5,706.2 1086.5,705.2 1094.5,704.2 1102.5,725.2 1110.5,720.4 1118.5,721.4 1126.5,721.4 1134.5,720.4" fill="none" stroke="#1E90FF" stroke-width="1" shape-rendering="crispEdges"/>
<rect x="3" y="20" width="2" height="799" fill="#fff"/>
<rect x="5" y="22" width="1417" height="1" fill="#000"/>
<rect x="5" y="561" width="1417" height="1" fill="#000"/>
<rect x="5" y="22" width="1" height="540" fill="#000"/>
<rect x="1421" y="22" width="1" height="540" fill="#000"/>
<rect x="5" y="563" width="1417" height="1" fill="#000"/>
<rect x="5" y="666" width="1417" height="1" fill="#000"/>
<rect x="5" y="563" width="1" height="104" fill="#000"/>
<rect x="1421" y="563" width="1" height="104" fill="#000"/>
<rect x="5" y="668" width="1417" height="1" fill="#000"/>
<rect x="5" y="798" width="1417" height="1" fill="#000"/>
<rect x="5" y="668" width="1" height="131" fill="#000"/>
<rect x="1421" y="668" width="1" height="131" fill="#000"/>
<rect x="1415" y="86" width="7" height="7" fill="#FF0000"/>
<rect x="1418" y="89" width="1" height="1" fill="#fff"/>
<rect x="5" y="86" width="7" height="7" fill="#FF0000"/>
<rect x="8" y="89" width="1" height="1" fill="#fff"/>
<rect x="1415" y="192" width="7" height="7" fill="#00FF00"/>
<rect x="1418" y="195" width="1" height="1" fill="#fff"/>
<rect x="5" y="192" width="7" height="7" fill="#00FF00"/>
<rect x="8" y="195" width="1" height="1" fill="#fff"/>
<rect x="1415" y="298" width="7" height="7" fill="#0000FF"/>
<rect x="1418" y="301" width="1" height="1" fill="#fff"/>
<rect x="5" y="298" width="7" height="7" fill="#0000FF"/>
<rect x="8" y="301" width="1" height="1" fill="#fff"/>
<rect x="1415" y="383" width="7" height="7" fill="#0000FF"/>
<rect x="1418" y="386" width="1" height="1" fill="#fff"/>
<rect x="5" y="383" width="7" height="7" fill="#0000FF"/>
<rect x="8" y="386" width="1" height="1" fill="#fff"/>
<rect x="1422" y="30" width="2" height="1" fill="#000"/>
<text x="1427" y="34" font-size="9.8" fill="#000" stroke="#000" stroke-width="0.2" textLength="33" lengthAdjust="spacingAndGlyphs">7.15590</text>
<rect x="1422" y="63" width="2" height="1" fill="#000"/>
<text x="1427" y="67" font-size="9.8" fill="#000" stroke="#000" stroke-width="0.2" textLength="33" lengthAdjust="spacingAndGlyphs">7.12530</text>
<rect x="1422" y="96" width="2" height="1" fill="#000"/>
<text x="1427" y="100" font-size="9.8" fill="#000" stroke="#000" stroke-width="0.2" textLength="33" lengthAdjust="spacingAndGlyphs">7.09380</text>
<rect x="1422" y="129" width="2" height="1" fill="#000"/>
<text x="1427" y="133" font-size="9.8" fill="#000" stroke="#000" stroke-width="0.2" textLength="33" lengthAdjust="spacingAndGlyphs">7.06320</text>
<rect x="1422" y="162" width="2" height="1" fill="#000"/>
<text x="1427" y="166" font-size="9.8" fill="#000" stroke="#000" stroke-width="0.2" textLength="33" lengthAdjust="spacingAndGlyphs">7.03170</text>
<rect x="1422" y="228" width="2" height="1" fill="#000"/>
<text x="1427" y="232" font-size="9.8" fill="#000" stroke="#000" stroke-width="0.2" textLength="33" lengthAdjust="spacingAndGlyphs">6.96960</text>
<rect x="1422" y="261" width="2" height="1" fill="#000"/>
<text x="1427" y="265" font-size="9.8" fill="#000" stroke="#000" stroke-width="0.2" textLength="33" lengthAdjust="spacingAndGlyphs">6.93900</text>
<rect x="1422" y="294" width="2" height="1" fill="#000"/>
<text x="1427" y="298" font-size="9.8" fill="#000" stroke="#000" stroke-width="0.2" textLength="33" lengthAdjust="spacingAndGlyphs">6.90750</text>
<rect x="1422" y="327" width="2" height="1" fill="#000"/>
<text x="1427" y="331" font-size="9.8" fill="#000" stroke="#000" stroke-width="0.2" textLength="33" lengthAdjust="spacingAndGlyphs">6.87690</text>
<rect x="1422" y="360" width="2" height="1" fill="#000"/>
<text x="1427" y="364" font-size="9.8" fill="#000" stroke="#000" stroke-width="0.2" textLength="33" lengthAdjust="spacingAndGlyphs">6.84630</text>
<rect x="1422" y="393" width="2" height="1" fill="#000"/>
<text x="1427" y="397" font-size="9.8" fill="#000" stroke="#000" stroke-width="0.2" textLength="33" lengthAdjust="spacingAndGlyphs">6.81480</text>
<rect x="1422" y="426" width="2" height="1" fill="#000"/>
<text x="1427" y="430" font-size="9.8" fill="#000" stroke="#000" stroke-width="0.2" textLength="33" lengthAdjust="spacingAndGlyphs">6.78420</text>
<rect x="1422" y="459" width="2" height="1" fill="#000"/>
<text x="1427" y="463" font-size="9.8" fill="#000" stroke="#000" stroke-width="0.2" textLength="33" lengthAdjust="spacingAndGlyphs">6.75270</text>
<rect x="1422" y="492" width="2" height="1" fill="#000"/>
<text x="1427" y="496" font-size="9.8" fill="#000" stroke="#000" stroke-width="0.2" textLength="33" lengthAdjust="spacingAndGlyphs">6.72210</text>
<rect x="1422" y="525" width="2" height="1" fill="#000"/>
<text x="1427" y="529" font-size="9.8" fill="#000" stroke="#000" stroke-width="0.2" textLength="33" lengthAdjust="spacingAndGlyphs">6.69060</text>
<rect x="1422" y="558" width="2" height="1" fill="#000"/>
<text x="1427" y="562" font-size="9.8" fill="#000" stroke="#000" stroke-width="0.2" textLength="33" lengthAdjust="spacingAndGlyphs">6.66000</text>
<rect x="1423" y="83" width="41" height="11" fill="#FF0000"/>
<text x="1427" y="92" font-size="9.8" fill="#fff" stroke="#fff" stroke-width="0.2" textLength="33" lengthAdjust="spacingAndGlyphs">7.10044</text>
<rect x="1423" y="139" width="41" height="11" fill="#000000"/>
<text x="1427" y="148" font-size="9.8" fill="#fff" stroke="#fff" stroke-width="0.2" textLength="33" lengthAdjust="spacingAndGlyphs">7.04788</text>
<rect x="1423" y="189" width="41" height="11" fill="#00FF00"/>
<text x="1427" y="198" font-size="9.8" fill="#fff" stroke="#fff" stroke-width="0.2" textLength="33" lengthAdjust="spacingAndGlyphs">7.00092</text>
<rect x="1423" y="295" width="41" height="11" fill="#0000FF"/>
<text x="1427" y="304" font-size="9.8" fill="#fff" stroke="#fff" stroke-width="0.2" textLength="33" lengthAdjust="spacingAndGlyphs">6.90100</text>
<rect x="1423" y="380" width="41" height="11" fill="#0000FF"/>
<text x="1427" y="389" font-size="9.8" fill="#fff" stroke="#fff" stroke-width="0.2" textLength="33" lengthAdjust="spacingAndGlyphs">6.82103</text>
<text x="1425" y="574" font-size="9.8" fill="#000" stroke="#000" stroke-width="0.2" textLength="38" lengthAdjust="spacingAndGlyphs">0.060343</text>
<rect x="1422" y="625" width="2" height="1" fill="#000"/>
<text x="1425" y="629" font-size="9.8" fill="#000" stroke="#000" stroke-width="0.2" textLength="18" lengthAdjust="spacingAndGlyphs">0.00</text>
<text x="1425" y="663" font-size="9.8" fill="#000" stroke="#000" stroke-width="0.2" textLength="42" lengthAdjust="spacingAndGlyphs">-0.040136</text>
<text x="1425" y="679" font-size="9.8" fill="#000" stroke="#000" stroke-width="0.2" textLength="15" lengthAdjust="spacingAndGlyphs">100</text>
<text x="1424.5" y="712.5" font-size="9.8" fill="#000" stroke="#000" stroke-width="0.2" textLength="9.5" lengthAdjust="spacingAndGlyphs">70</text>
<text x="1424.5" y="763.5" font-size="9.8" fill="#000" stroke="#000" stroke-width="0.2" textLength="9.5" lengthAdjust="spacingAndGlyphs">30</text>
<text x="1425" y="795" font-size="9.8" fill="#000" stroke="#000" stroke-width="0.2" textLength="5" lengthAdjust="spacingAndGlyphs">0</text>
<rect x="6" y="799" width="1" height="3" fill="#000"/>
<text x="5" y="811" font-size="9.8" fill="#000" stroke="#000" stroke-width="0.2" textLength="50.6" lengthAdjust="spacingAndGlyphs">31 Jan 2019</text>
<rect x="70" y="799" width="1" height="3" fill="#000"/>
<text x="69" y="811" font-size="9.8" fill="#000" stroke="#000" stroke-width="0.2" textLength="51.7" lengthAdjust="spacingAndGlyphs">12 Feb 2019</text>
<rect x="134" y="799" width="1" height="3" fill="#000"/>
<text x="133" y="811" font-size="9.8" fill="#000" stroke="#000" stroke-width="0.2" textLength="51.7" lengthAdjust="spacingAndGlyphs">22 Feb 2019</text>
<rect x="198" y="799" width="1" height="3" fill="#000"/>
<text x="197" y="811" font-size="9.8" fill="#000" stroke="#000" stroke-width="0.2" textLength="46.6" lengthAdjust="spacingAndGlyphs">6 Mar 2019</text>
<rect x="262" y="799" width="1" height="3" fill="#000"/>
<text x="261" y="811" font-size="9.8" fill="#000" stroke="#000" stroke-width="0.2" textLength="51.6" lengthAdjust="spacingAndGlyphs">18 Mar 2019</text>
<rect x="326" y="799" width="1" height="3" fill="#000"/>
<text x="325" y="811" font-size="9.8" fill="#000" stroke="#000" stroke-width="0.2" textLength="51.6" lengthAdjust="spacingAndGlyphs">28 Mar 2019</text>
<rect x="390" y="799" width="1" height="3" fill="#000"/>
<text x="389" y="811" font-size="9.8" fill="#000" stroke="#000" stroke-width="0.2" textLength="44.5" lengthAdjust="spacingAndGlyphs">9 Apr 2019</text>
<rect x="454" y="799" width="1" height="3" fill="#000"/>
<text x="453" y="811" font-size="9.8" fill="#000" stroke="#000" stroke-width="0.2" textLength="49.6" lengthAdjust="spacingAndGlyphs">22 Apr 2019</text>
<rect x="518" y="799" width="1" height="3" fill="#000"/>
<text x="517" y="811" font-size="9.8" fill="#000" stroke="#000" stroke-width="0.2" textLength="48.1" lengthAdjust="spacingAndGlyphs">2 May 2019</text>
<rect x="582" y="799" width="1" height="3" fill="#000"/>
<text x="581" y="811" font-size="9.8" fill="#000" stroke="#000" stroke-width="0.2" textLength="53.2" lengthAdjust="spacingAndGlyphs">14 May 2019</text>
<rect x="646" y="799" width="1" height="3" fill="#000"/>
<text x="645" y="811" font-size="9.8" fill="#000" stroke="#000" stroke-width="0.2" textLength="53.2" lengthAdjust="spacingAndGlyphs">24 May 2019</text>
<rect x="710" y="799" width="1" height="3" fill="#000"/>
<text x="709" y="811" font-size="9.8" fill="#000" stroke="#000" stroke-width="0.2" textLength="45.5" lengthAdjust="spacingAndGlyphs">5 Jun 2019</text>
<rect x="774" y="799" width="1" height="3" fill="#000"/>
<text x="773" y="811" font-size="9.8" fill="#000" stroke="#000" stroke-width="0.2" textLength="50.6" lengthAdjust="spacingAndGlyphs">17 Jun 2019</text>
<rect x="838" y="799" width="1" height="3" fill="#000"/>
<text x="837" y="811" font-size="9.8" fill="#000" stroke="#000" stroke-width="0.2" textLength="50.6" lengthAdjust="spacingAndGlyphs">27 Jun 2019</text>
<rect x="902" y="799" width="1" height="3" fill="#000"/>
<text x="901" y="811" font-size="9.8" fill="#000" stroke="#000" stroke-width="0.2" textLength="42.4" lengthAdjust="spacingAndGlyphs">9 Jul 2019</text>
<rect x="966" y="799" width="1" height="3" fill="#000"/>
<text x="965" y="811" font-size="9.8" fill="#000" stroke="#000" stroke-width="0.2" textLength="47.6" lengthAdjust="spacingAndGlyphs">19 Jul 2019</text>
<rect x="1030" y="799" width="1" height="3" fill="#000"/>
<text x="1029" y="811" font-size="9.8" fill="#000" stroke="#000" stroke-width="0.2" textLength="47.6" lengthAdjust="spacingAndGlyphs">31 Jul 2019</text>
<rect x="1094" y="799" width="1" height="3" fill="#000"/>
<text x="1093" y="811" font-size="9.8" fill="#000" stroke="#000" stroke-width="0.2" textLength="51.7" lengthAdjust="spacingAndGlyphs">12 Aug 2019</text>
<polygon points="5.5,792 5.5,798 11.5,798" fill="#c4c4c4" shape-rendering="auto"/>
<text x="21.5" y="35" font-size="9.8" fill="#000" stroke="#000" stroke-width="0.2" textLength="68.6" lengthAdjust="spacingAndGlyphs">USDCNH-,Daily</text>
<text x="96.3" y="35" font-size="9.8" fill="#000" stroke="#000" stroke-width="0.2" textLength="140.7" lengthAdjust="spacingAndGlyphs">7.04140 7.04826 7.04134 7.04788</text>
<polygon points="9,33 16.5,33 12.75,29" fill="#000" shape-rendering="auto"/>
<text x="10" y="576.5" font-size="9.8" fill="#000" stroke="#000" stroke-width="0.2" textLength="147.5" lengthAdjust="spacingAndGlyphs">MACD(12,26,9) 0.042596 0.048301</text>
<text x="10" y="681" font-size="9.8" fill="#000" stroke="#000" stroke-width="0.2" textLength="68.3" lengthAdjust="spacingAndGlyphs">RSI(14) 60.2933</text>
<defs><linearGradient id="gTab" x1="0" y1="0" x2="0" y2="1"><stop offset="0" stop-color="#ff5757"/><stop offset="1" stop-color="#e33737"/></linearGradient><linearGradient id="gBlk" x1="0" y1="0" x2="0" y2="1"><stop offset="0" stop-color="#e13535"/><stop offset="1" stop-color="#b20303"/></linearGradient><linearGradient id="gBtn" x1="0" y1="0" x2="0" y2="1"><stop offset="0" stop-color="#f3f3f3"/><stop offset="0.45" stop-color="#ebebeb"/><stop offset="0.5" stop-color="#dcdcdc"/><stop offset="1" stop-color="#d0d0d0"/></linearGradient></defs>
<rect x="7" y="40" width="223" height="68" fill="#ffffff"/>
<rect x="9" y="42" width="52" height="25" fill="#b80000"/>
<rect x="10" y="43" width="50" height="23" fill="url(#gTab)"/>
<rect x="9" y="66" width="109" height="40" fill="#b80000"/>
<rect x="10" y="67" width="107" height="38" fill="url(#gBlk)"/>
<rect x="10" y="65" width="50" height="2" fill="#e23636"/>
<rect x="13" y="65" width="44" height="1" fill="#8a0000"/>
<rect x="13" y="66" width="44" height="1" fill="#ff7474"/>
<rect x="176" y="42" width="52" height="25" fill="#b80000"/>
<rect x="177" y="43" width="50" height="23" fill="url(#gTab)"/>
<rect x="120" y="66" width="108" height="40" fill="#b80000"/>
<rect x="121" y="67" width="106" height="38" fill="url(#gBlk)"/>
<rect x="177" y="65" width="50" height="2" fill="#e23636"/>
<rect x="180" y="65" width="44" height="1" fill="#8a0000"/>
<rect x="180" y="66" width="44" height="1" fill="#ff7474"/>
<rect x="63" y="42" width="111" height="22" fill="#a9adb3"/>
<rect x="64" y="43" width="109" height="20" fill="#ffffff"/>
<rect x="64" y="43" width="21" height="20" fill="#c7c9cc"/>
<rect x="65" y="44" width="19" height="18" fill="url(#gBtn)"/>
<rect x="152" y="43" width="21" height="20" fill="#c7c9cc"/>
<rect x="153" y="44" width="19" height="18" fill="url(#gBtn)"/>
<polygon points="71.3,51.2 77.3,51.2 74.3,54.6" fill="#5060c8" shape-rendering="auto"/>
<polygon points="159.5,54.6 165.5,54.6 162.5,51.2" fill="#5060c8" shape-rendering="auto"/>
<text x="125.5" y="57" font-size="11.5" fill="#000" textLength="23.3" lengthAdjust="spacingAndGlyphs">1.00</text>
<text x="21.5" y="57.8" font-size="12.3" fill="#fff" textLength="25.4" lengthAdjust="spacingAndGlyphs">SELL</text>
<text x="189.8" y="57.8" font-size="12.3" fill="#fff" textLength="22.7" lengthAdjust="spacingAndGlyphs">BUY</text>
<text x="29" y="97.3" font-size="12.5" fill="#fff" textLength="23.6" lengthAdjust="spacingAndGlyphs" font-weight="bold">7.04</text>
<text x="139" y="97.3" font-size="12.5" fill="#fff" textLength="23.6" lengthAdjust="spacingAndGlyphs" font-weight="bold">7.05</text>
<text x="57" y="97.3" font-size="34" fill="#fff" textLength="34" lengthAdjust="spacingAndGlyphs">78</text>
<text x="168" y="97.3" font-size="34" fill="#fff" textLength="33.4" lengthAdjust="spacingAndGlyphs">02</text>
<text x="96.3" y="81.3" font-size="12" fill="#fff" textLength="6.7" lengthAdjust="spacingAndGlyphs" font-weight="bold">8</text>
<text x="207.6" y="81.3" font-size="12" fill="#fff" textLength="5.8" lengthAdjust="spacingAndGlyphs" font-weight="bold">5</text>
<rect x="0" y="819" width="1465" height="1" fill="#e3e3e3"/>
<rect x="0" y="820" width="1465" height="1" fill="#f0f0f0"/>
<rect x="0" y="821" width="1465" height="1" fill="#000"/>
<rect x="0" y="822" width="1465" height="19" fill="#f0f0f0"/>
<rect x="1" y="822" width="2" height="18" fill="#7a7a7a"/>
<text x="18.4" y="836" font-size="12.5" fill="#6d6d6d" textLength="84" lengthAdjust="spacingAndGlyphs">EURUSD-,Daily</text>
<rect x="115" y="824" width="1" height="14" fill="#707070"/>
<text x="125" y="836" font-size="12.5" fill="#6d6d6d" textLength="87" lengthAdjust="spacingAndGlyphs">AUDUSD-,Daily</text>
<rect x="222" y="824" width="1" height="14" fill="#707070"/>
<text x="235.5" y="836" font-size="12.5" fill="#6d6d6d" textLength="83" lengthAdjust="spacingAndGlyphs">USDCHF-,Daily</text>
<rect x="330" y="824" width="1" height="14" fill="#707070"/>
<text x="342" y="836" font-size="12.5" fill="#6d6d6d" textLength="86" lengthAdjust="spacingAndGlyphs">USDCAD-,Daily</text>
<text x="562" y="836" font-size="12.5" fill="#6d6d6d" textLength="96.6" lengthAdjust="spacingAndGlyphs">EURCHF-,Weekly</text>
<rect x="670" y="824" width="1" height="14" fill="#707070"/>
<text x="682.4" y="836" font-size="12.5" fill="#6d6d6d" textLength="100.3" lengthAdjust="spacingAndGlyphs">XAUUSD-,Weekly</text>
<rect x="794" y="824" width="1" height="14" fill="#707070"/>
<text x="806" y="836" font-size="12.5" fill="#6d6d6d" textLength="73" lengthAdjust="spacingAndGlyphs">GBPUSD-,H1</text>
<rect x="890" y="824" width="1" height="14" fill="#707070"/>
<text x="902.3" y="836" font-size="12.5" fill="#6d6d6d" textLength="56.5" lengthAdjust="spacingAndGlyphs">UKOil-,H1</text>
<rect x="970" y="824" width="1" height="14" fill="#707070"/>
<text x="981.4" y="836" font-size="12.5" fill="#6d6d6d" textLength="82.6" lengthAdjust="spacingAndGlyphs">USDX-,Weekly</text>
<rect x="1074" y="824" width="1" height="14" fill="#707070"/>
<rect x="440" y="821" width="111" height="19" fill="#fff"/>
<rect x="440" y="821" width="1" height="19" fill="#000"/>
<rect x="550" y="821" width="1" height="19" fill="#000"/>
<rect x="440" y="839" width="111" height="1" fill="#000"/>
<text x="450.5" y="836" font-size="12.5" fill="#000" textLength="88" lengthAdjust="spacingAndGlyphs">USDCNH-,Daily</text>
<polygon points="1440.5,827 1440.5,833.6 1436.8,830.3" fill="#a0a0a0" shape-rendering="auto"/>
<polygon points="1455.8,827 1455.8,833.6 1459.5,830.3" fill="#a0a0a0" shape-rendering="auto"/>
<rect x="1422" y="797" width="2" height="1" fill="#000"/>
</svg>
<div style="position:absolute;left:0;top:0;width:240px;height:110px">
</div>

</body></html>
